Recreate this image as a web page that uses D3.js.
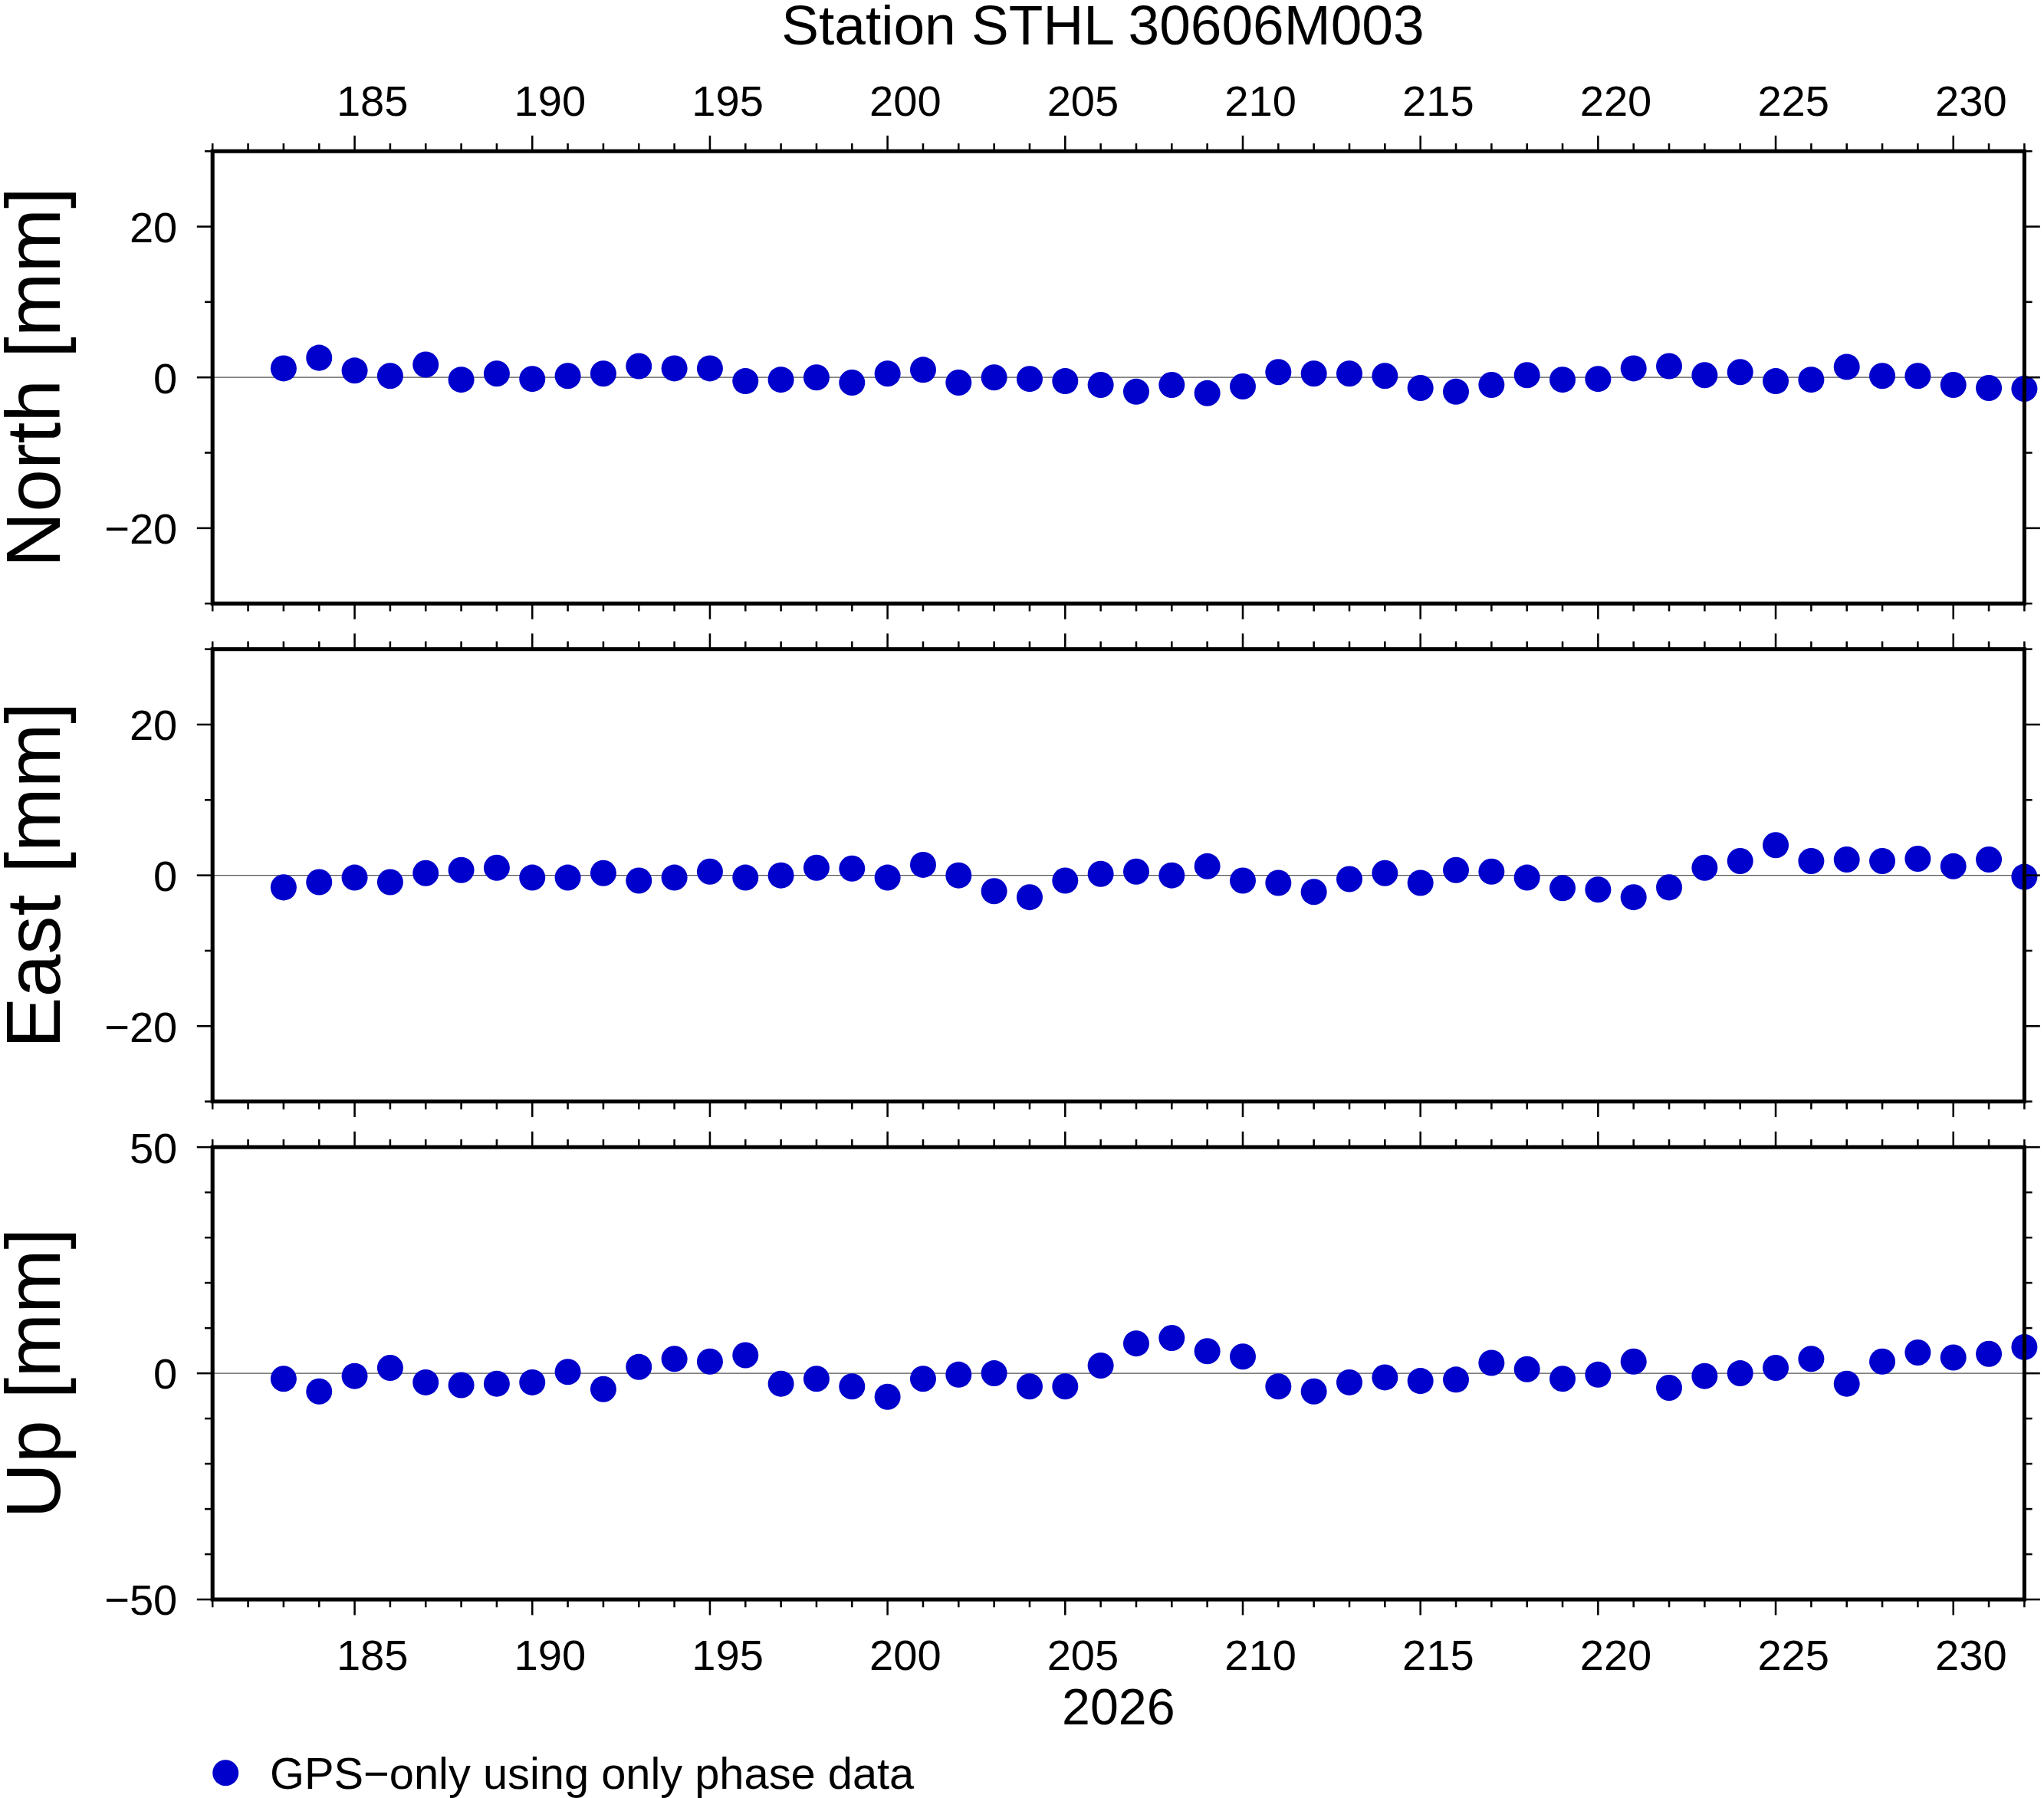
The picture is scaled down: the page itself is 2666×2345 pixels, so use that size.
<!DOCTYPE html>
<html><head><meta charset="utf-8">
<script src="https://cdn.jsdelivr.net/npm/d3@7"></script>
<style>body{margin:0;background:#fff}text{font-family:"Liberation Sans",Arial,sans-serif}</style>
</head><body>
<script>
// days of year 183..232
const days = d3.range(183, 233);
const north = [1.2,2.6,0.9,0.2,1.7,-0.3,0.5,-0.2,0.2,0.5,1.5,1.2,1.2,-0.5,-0.3,0,-0.7,0.5,1.0,-0.7,0,-0.2,-0.5,-1.0,-1.9,-1.0,-2.1,-1.2,0.7,0.5,0.5,0.2,-1.4,-1.9,-1.0,0.3,-0.3,-0.2,1.2,1.5,0.3,0.7,-0.5,-0.3,1.4,0.2,0.2,-1.0,-1.4,-1.5];
const east = [-1.6,-0.9,-0.3,-0.9,0.3,0.7,1.0,-0.3,-0.3,0.3,-0.7,-0.3,0.5,-0.3,0,1.0,0.9,-0.3,1.4,0,-2.1,-2.9,-0.7,0.2,0.5,0,1.2,-0.7,-1.0,-2.2,-0.5,0.3,-1.0,0.7,0.5,-0.3,-1.7,-1.9,-2.9,-1.6,1.0,1.9,4.0,1.9,2.1,1.9,2.2,1.2,2.1,-0.2];
const up = [-1.2,-4.0,-0.6,1.2,-2.0,-2.6,-2.3,-2.0,0.3,-3.5,1.4,3.2,2.6,4.0,-2.3,-1.2,-2.9,-5.2,-1.2,-0.3,0,-2.9,-2.9,1.7,6.6,7.8,4.9,3.7,-2.9,-4.0,-2.0,-0.9,-1.7,-1.4,2.3,0.9,-1.2,-0.3,2.6,-3.2,-0.6,0,1.2,3.2,-2.3,2.6,4.6,3.5,4.3,5.8];
const panels = [
  {label: 'North [mm]', values: north, range: [-30, 30], ticks: [-20, 0, 20], minor: 10},
  {label: 'East [mm]', values: east, range: [-30, 30], ticks: [-20, 0, 20], minor: 10},
  {label: 'Up [mm]', values: up, range: [-50, 50], ticks: [-50, 0, 50], minor: 10}
];
const xLabels = [185, 190, 195, 200, 205, 210, 215, 220, 225, 230];

const W = 1568, H = 1379.3;
const svg = d3.select('body').append('svg')
  .attr('width', 2666).attr('height', 2345)
  .attr('viewBox', `0 0 ${W} ${H}`);

const left = 163, right = 1553, ph = 347, tops = [116, 498, 880];
const x = d3.scaleLinear().domain([181, 232]).range([left, right]);
const color = '#0000cc';

svg.append('text').attr('x', 846).attr('y', 34).attr('text-anchor', 'middle')
  .attr('font-size', 43).text('Station STHL 30606M003');

function xTicks(g, y0, dir) {
  d3.range(181, 233).forEach(d => {
    const len = d % 5 === 0 ? 12 : 6;
    g.append('line').attr('x1', x(d)).attr('x2', x(d))
      .attr('y1', y0).attr('y2', y0 + dir * len)
      .attr('stroke', '#000').attr('stroke-width', 1.5);
  });
}

panels.forEach((p, i) => {
  const top = tops[i], bot = top + ph;
  const y = d3.scaleLinear().domain(p.range).range([bot, top]);
  const g = svg.append('g');

  g.append('line').attr('x1', left).attr('x2', right)
    .attr('y1', y(0)).attr('y2', y(0)).attr('stroke', '#555').attr('stroke-width', 0.8);

  g.selectAll('circle').data(p.values).enter().append('circle')
    .attr('cx', (d, j) => x(days[j])).attr('cy', d => y(d))
    .attr('r', 10).attr('fill', color);

  g.append('rect').attr('x', left).attr('y', top).attr('width', right - left).attr('height', ph)
    .attr('fill', 'none').attr('stroke', '#000').attr('stroke-width', 3);

  // y ticks both sides
  d3.range(p.range[0], p.range[1] + 0.1, p.minor).forEach(v => {
    const len = p.ticks.includes(v) ? 12 : 6;
    [[left, -1], [right, 1]].forEach(([x0, dir]) => {
      g.append('line').attr('x1', x0).attr('x2', x0 + dir * len)
        .attr('y1', y(v)).attr('y2', y(v)).attr('stroke', '#000').attr('stroke-width', 1.5);
    });
  });
  p.ticks.forEach(v => {
    g.append('text').attr('x', 136).attr('y', y(v) + 12).attr('text-anchor', 'end')
      .attr('font-size', 33).text(v < 0 ? '\u2212' + Math.abs(v) : v);
  });

  xTicks(g, top, -1);
  xTicks(g, bot, 1);

  g.append('text').attr('transform', `translate(46,${(top + bot) / 2}) rotate(-90)`)
    .attr('text-anchor', 'middle').attr('font-size', 59).text(p.label);
});

xLabels.forEach(d => {
  svg.append('text').attr('x', x(d + 0.5)).attr('y', 89).attr('text-anchor', 'middle')
    .attr('font-size', 33).text(d);
  svg.append('text').attr('x', x(d + 0.5)).attr('y', 1281).attr('text-anchor', 'middle')
    .attr('font-size', 33).text(d);
});
svg.append('text').attr('x', 858).attr('y', 1323).attr('text-anchor', 'middle')
  .attr('font-size', 39).text('2026');

svg.append('circle').attr('cx', 173).attr('cy', 1360).attr('r', 10).attr('fill', color);
svg.append('text').attr('x', 207).attr('y', 1372).attr('font-size', 34)
  .text('GPS\u2212only using only phase data');
</script>
</body></html>
